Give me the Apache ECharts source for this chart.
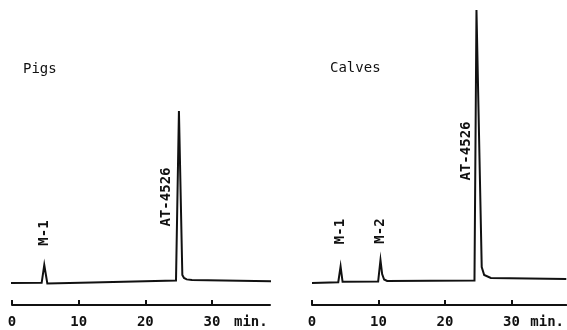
<!DOCTYPE html>
<html>
<head>
<meta charset="utf-8">
<script src="https://cdn.jsdelivr.net/npm/echarts@6/dist/echarts.min.js"></script>
<style>
  html, body { margin: 0; padding: 0; background: #fff; }
  #chart { width: 567px; height: 330px; }
</style>
</head>
<body>
<div id="chart"></div>
<script>
// retention time (min), detector signal (arbitrary units)
var pigsTrace = [
  [-0.15, 0], [4.45, 0.2], [4.84, 18], [5.3, -0.5], [12, 0.5],
  [24.6, 2.5], [25.04, 172], [25.55, 8], [25.8, 5], [26.2, 3.6],
  [27.0, 3], [39.45, 1.8]
];
var calvesTrace = [
  [0, 0], [3.95, 0.8], [4.3, 16.5], [4.6, 1.2], [9.95, 1.5],
  [10.3, 23], [10.55, 9], [10.85, 3.5], [11.3, 2], [24.44, 2.5],
  [24.74, 273], [25.53, 16], [25.9, 8], [26.9, 5], [38.25, 4]
];
var tickValues = [0, 10, 20, 30];
var pigsPeaks = [['M-1', 4.84], ['AT-4526', 25.04]];
var calvesPeaks = [['M-1', 4.3], ['M-2', 10.3], ['AT-4526', 24.74]];

var font = '"DejaVu Sans Mono", monospace';
var ink = '#111';

function xAxisFor(grid, max){
  return {
    type: 'value',
    gridIndex: grid,
    min: 0,
    max: max,
    name: 'min.',
    nameLocation: 'end',
    nameGap: -36,
    nameTextStyle: { color: ink, fontFamily: font, fontSize: 14, fontWeight: 'bold', align: 'left', verticalAlign: 'top', padding: [10, 0, 0, 0] },
    splitLine: { show: false },
    axisLine: { onZero: false, lineStyle: { color: ink, width: 2 } },
    axisTick: { inside: true, length: 5, customValues: tickValues, lineStyle: { color: ink, width: 2 } },
    axisLabel: { customValues: tickValues, margin: 10, color: ink, fontFamily: font, fontSize: 14, fontWeight: 'bold' }
  };
}
function yAxisFor(grid){
  return { type: 'value', gridIndex: grid, min: -22, max: 283, show: false };
}
function trace(grid, data){
  return {
    type: 'line', xAxisIndex: grid, yAxisIndex: grid, data: data,
    showSymbol: false, clip: false, animation: false,
    lineStyle: { color: ink, width: 2, join: 'miter' }
  };
}

var option = {
  animation: false,
  backgroundColor: '#fff',
  title: [
    { text: 'Pigs', left: 23, top: 62, padding: 0, textStyle: { color: ink, fontFamily: font, fontSize: 14, fontWeight: 'normal' } },
    { text: 'Calves', left: 330, top: 61, padding: 0, textStyle: { color: ink, fontFamily: font, fontSize: 14, fontWeight: 'normal' } }
  ],
  grid: [
    { left: 12, width: 258, top: 0, height: 305 },
    { left: 312, right: 0, top: 0, height: 305 }
  ],
  xAxis: [xAxisFor(0, 38.7), xAxisFor(1, 38.25)],
  yAxis: [yAxisFor(0), yAxisFor(1)],
  series: [trace(0, pigsTrace), trace(1, calvesTrace)]
};

var chart = echarts.init(document.getElementById('chart'));
chart.setOption(option);

// peak labels, rotated, placed relative to each peak apex
function peakValue(data, t){
  for (var i = 0; i < data.length; i++) if (data[i][0] === t) return data[i][1];
  return 0;
}
var labelOffsets = {
  '0:M-1': [0, -32], '0:AT-4526': [-13, 86],
  '1:M-1': [0, -35], '1:M-2': [0, -29], '1:AT-4526': [-10, 141]
};
var texts = [];
[[0, pigsPeaks, pigsTrace], [1, calvesPeaks, calvesTrace]].forEach(function(p){
  p[1].forEach(function(pk){
    var px = chart.convertToPixel({ xAxisIndex: p[0], yAxisIndex: p[0] }, [pk[1], peakValue(p[2], pk[1])]);
    var off = labelOffsets[p[0] + ':' + pk[0]];
    texts.push({
      type: 'text', x: px[0] + off[0], y: px[1] + off[1], rotation: Math.PI / 2,
      style: { text: pk[0], fill: ink, fontFamily: font, fontSize: 14, fontWeight: 'bold', align: 'center', verticalAlign: 'middle' }
    });
  });
});
chart.setOption({ graphic: texts });

window.addEventListener('resize', function(){ chart.resize(); });
</script>
</body>
</html>
